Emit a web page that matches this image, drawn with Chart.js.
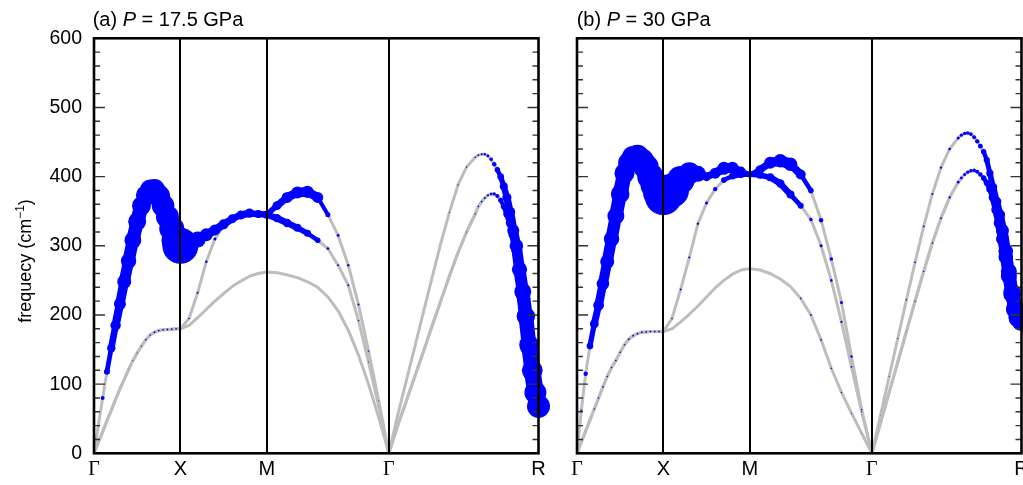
<!DOCTYPE html>
<html>
<head>
<meta charset="utf-8">
<script src="https://cdn.jsdelivr.net/npm/chart.js@4.4.1/dist/chart.umd.min.js"></script>
<style>
html,body{margin:0;padding:0;background:#fff;overflow:hidden;width:1023px;height:485px;}
canvas{position:absolute;top:0;}
#ca{left:0px;}
#cb{left:483px;}
</style>
</head>
<body>
<canvas id="ca" width="560" height="485" style="width:560px;height:485px"></canvas>
<canvas id="cb" width="560" height="485" style="width:560px;height:485px"></canvas>
<script>
// ---- path coordinate (Γ-X | X-M | M-Γ | Γ-R) ----
const Q = [0,0.025,0.05,0.075,0.1,0.125,0.15,0.175,0.2,0.225,0.25,0.275,0.3,0.325,0.35,0.375,0.4,0.425,0.45,0.475,0.5,
  0.55,0.6,0.65,0.7,0.75,0.8,0.85,0.9,0.95,1.0,
  1.059,1.118,1.177,1.236,1.295,1.354,1.413,1.472,1.531,1.589,1.648,1.7071,
  1.757,1.807,1.857,1.907,1.957,2.007,2.057,2.107,2.157,2.207,
  2.225,2.244,2.262,2.280,2.299,2.317,2.335,2.354,2.372,2.390,2.408,2.427,2.445,2.463,2.482,2.500,2.518,2.537,2.555,2.5731];
const TICK_POS = [0, 0.5, 1.0, 1.7071, 2.5731];
const TICK_LABELS = ['Γ','X','M','Γ','R'];
const Y_MIN = 0, Y_MAX = 600, Y_STEP = 100, Y_MINOR = 20;

// ---- (a) P = 17.5 GPa : frequencies (cm^-1) ----
const A_B1 = [0,16,31,47,62,78,93,107,121,134,145,155,164,171,175,177.5,178.5,179,179.5,180,180,
  185,196,208,220,231,241,249,256,260,262,
  261,258,254,248,240,226,206,178,142,100,52,0,
  39,75,111,147,184,220,256,290,320,346, 357,364,369,373,375,375,372,366,357,346, 333,316,296,262,230,194,152,116,85,68];
const A_B2 = [0,16,31,47,62,78,93,107,121,134,145,155,164,171,175,177.5,178.5,179,179.5,180,180,
  195,232,277,310,328,338,343,346,346,345,
  340,333,326,318,308,296,272,243,192,132,68,0,
  39,75,111,147,184,220,256,290,320,346, 357,364,369,373,375,375,372,366,357,346, 333,316,296,262,230,194,152,116,85,68];
const A_B3 = [0,40,80,118,152,185,216,248,278,308,335,358,373,381,381,372,358,342,325,308,300,
  303,309,316,323,331,339,345,348,346,345,
  358,370,377,378,370,345,315,272,215,148,76,0,
  54,104,154,204,254,303,348,388,414,428, 431,432.5,432.5,430,425,418,410,400,386,370, 349,322,300,266,234,198,157,120,88,68];
// electron-phonon coupling weights (a)
const A_L1 = [0,0,0,0,0,0,0,0,0,0,0,0,0,0,0,0,0,0,0,0,0,
  0,0,0,0,0,0,0,0,0,0,
  0,0,0,0,0,0,0,0,0,0,0,0,
  0,0,0,0,0,0,0,0,0,0, 0,0,0,0,0,0,0,0,0,0, 0,0,0,0,0,0,0,0,0,0];
const A_L2 = [0,0,0,0,0,0,0,0,.04,.05,.06,.07,.08,.08,.09,.09,.09,.09,.09,.09,.1,
  .08,.1,.12,.15,.2,.28,.35,.38,.4,.4,
  .42,.42,.4,.35,.28,.14,.1,.09,.07,.05,.03,0,
  0,0,0,0,0,0,0,0,.05,.07, .08,.09,.1,.11,.13,.16,.2,.25,.3,.36, .42,.48,.55,.62,.7,.77,.84,.9,.96,1.0];
const A_L3 = [0,.07,.2,.3,.42,.52,.6,.7,.77,.84,.9,.95,.99,1.02,1.07,1.12,1.13,1.15,1.25,1.45,1.8,
  1.0,.8,.65,.55,.5,.45,.42,.4,.35,.35,
  .45,.55,.6,.62,.55,.25,.14,.12,.1,.08,.05,0,
  0,0,0,0,0,0,.05,.06,.07,.08, .09,.1,.12,.14,.18,.22,.28,.33,.4,.46, .53,.6,.68,.76,.85,.92,.98,1.04,1.1,1.15];

// ---- (b) P = 30 GPa : frequencies (cm^-1) ----
const B_B1 = [0,16,32,48,64,80,96,111,124,134,146,157,165,170,173,175,175.5,176,176,176,176,
  180,190,201,213,226,239,250,259,265,267,
  265,260,252,241,224,200,164,123,88,58,29,0,
  44,88,132,176,220,263,304,340,370,392, 398,403,406.5,408.5,409,407,403,398,391,382, 370,352,333,310,284,256,230,209,197,192];
const B_B2 = [0,16,32,48,64,80,96,111,124,134,146,157,165,170,173,175,175.5,176,176,176,176,
  195,237,283,332,362,382,395,401,403,403,
  402,399,390,374,358,338,300,250,190,125,60,0,
  44,88,132,176,220,263,304,340,370,392, 398,403,406.5,408.5,409,407,403,398,391,382, 370,352,333,310,284,256,230,209,197,192];
const B_B3 = [0,62,115,155,187,214,245,277,310,343,375,405,420,428,429,423,414,400,388,377,371,
  380,395,405,404,400,405,412,413,408,403,
  410,420,423,418,403,380,337,281,218,140,63,0,
  55,111,166,222,276,328,375,413,440,456, 460,462.5,463,461.5,457,451,444,436,424,405, 385,364,345,322,292,263,233,208,196,192];
// electron-phonon coupling weights (b)
const B_L1 = [0,0,0,0,0,0,0,0,0,0,0,0,0,0,0,0,0,0,0,0,0,
  0,0,0,0,0,0,0,0,0,0,
  0,0,0,0,.08,.09,.09,.08,.07,.05,.03,0,
  0,0,0,0,0,0,0,0,0,0, 0,0,0,0,0,0,0,0,0,0, 0,0,0,0,0,0,0,0,0,0];
const B_L2 = [0,0,0,0,.07,.07,.08,.08,.08,.08,.08,.08,.09,.09,.09,.09,.09,.09,.09,.09,.09,
  .08,.1,.1,.12,.15,.22,.28,.35,.35,.3,
  .35,.4,.42,.4,.3,.17,.15,.13,.11,.09,.06,0,
  0,0,0,.04,.06,.07,.08,.09,.11,.13, .14,.15,.16,.17,.18,.2,.23,.27,.31,.36, .43,.5,.57,.65,.73,.8,.86,.92,.98,1.02];
const B_L3 = [0,.1,.22,.33,.44,.54,.63,.7,.77,.85,.93,1.0,1.07,1.13,1.18,1.22,1.26,1.32,1.42,1.6,1.85,
  1.7,1.4,1.1,.8,.45,.55,.65,.6,.45,.3,
  .45,.6,.68,.68,.5,.28,.22,.18,.15,.12,.08,0,
  .03,.05,.06,.07,.08,.09,.1,.11,.13,.15, .16,.17,.18,.19,.2,.22,.24,.27,.31,.36, .43,.5,.57,.65,.73,.8,.86,.92,.98,1.02];

// ---- styling ----
const BLUE = '#0000ff', GRAY = '#bdbdbd', NONE = 'rgba(0,0,0,0)';
const LAMBDA_TO_PX = 10;
const BAND_MIN = 2.5;     // px radius below which circles stay separate dots
const BAND_FRAC = 0.8;    // band thickness relative to circle diameter (keeps bead outline)
const SANS = "'Liberation Sans', Arial, Helvetica, sans-serif";
const SERIF = "'Liberation Serif', 'Times New Roman', serif";

const panelPlugin = {
  id: 'panel',
  afterDatasetsDraw(chart, args, opts) {
    const {ctx, chartArea: a, scales: {x, y}} = chart;
    ctx.save();
    ctx.strokeStyle = '#000';
    ctx.lineWidth = 2;
    TICK_POS.slice(1, -1).forEach(v => {
      const px = Math.round(x.getPixelForValue(v));
      ctx.beginPath(); ctx.moveTo(px, a.top); ctx.lineTo(px, a.bottom); ctx.stroke();
    });
    ctx.strokeStyle = '#333';
    ctx.lineWidth = 1.4;
    for (let v = Y_MIN; v <= Y_MAX; v += Y_MINOR) {
      const py = y.getPixelForValue(v);
      const len = (v % Y_STEP === 0) ? 11 : 6;
      ctx.beginPath();
      ctx.moveTo(a.left, py); ctx.lineTo(a.left + len, py);
      ctx.moveTo(a.right, py); ctx.lineTo(a.right - len, py);
      ctx.stroke();
    }
    ctx.strokeStyle = '#000';
    ctx.lineWidth = 2.6;
    ctx.strokeRect(a.left, a.top, a.right - a.left, a.bottom - a.top);
    ctx.restore();
  },
  afterDraw(chart, args, opts) {
    const ctx = chart.ctx;
    ctx.save();
    ctx.fillStyle = '#000';
    ctx.textBaseline = 'alphabetic';
    let cx = opts.titleX;
    const parts = [[opts.label + ' ', 'normal'], ['P', 'italic'], [' = ' + opts.value, 'normal']];
    parts.forEach(([t, st]) => {
      ctx.font = (st === 'italic' ? 'italic ' : '') + '20px ' + SANS;
      ctx.fillText(t, cx, 25.5);
      cx += ctx.measureText(t).width;
    });
    if (opts.yTitle) {
      ctx.translate(31, 261);
      ctx.rotate(-Math.PI / 2);
      const main = 'frequecy (cm', sup = '\u22121', end = ')';
      ctx.font = '18px ' + SANS;
      const w1 = ctx.measureText(main).width, w3 = ctx.measureText(end).width;
      ctx.font = '12px ' + SANS;
      const w2 = ctx.measureText(sup).width;
      let sx = -(w1 + w2 + w3) / 2;
      ctx.font = '18px ' + SANS;
      ctx.fillText(main, sx, 0); sx += w1;
      ctx.font = '12px ' + SANS;
      ctx.fillText(sup, sx, -7); sx += w2;
      ctx.font = '18px ' + SANS;
      ctx.fillText(end, sx, 0);
    }
    ctx.restore();
  }
};

function buildChart(id, freqs, lams, showYLabels, panelOpts) {
  const datasets = [];
  freqs.forEach((f, bi) => {
    datasets.push({
      type: 'bubble', order: 0, clip: false,
      backgroundColor: BLUE, borderWidth: 0, hoverBorderWidth: 0, hoverRadius: 0,
      data: Q.map((q, i) => ({x: q, y: f[i], r: lams[bi][i] * LAMBDA_TO_PX})).filter(d => d.r >= 0.3)
    });
  });
  // continuous "fat band" joining neighbouring coupling circles
  freqs.forEach((f, bi) => {
    const rad = i => lams[bi][i] * LAMBDA_TO_PX;
    const segR = c => Math.min(rad(c.p0DataIndex), rad(c.p1DataIndex));
    datasets.push({
      type: 'line', order: 1, clip: false,
      data: Q.map((q, i) => ({x: q, y: f[i]})),
      borderColor: BLUE, borderWidth: 1, pointRadius: 0, tension: 0, fill: false,
      borderCapStyle: 'round', borderJoinStyle: 'round',
      segment: {
        borderWidth: c => Math.max(1, 2 * BAND_FRAC * segR(c)),
        borderColor: c => segR(c) >= BAND_MIN ? BLUE : NONE
      }
    });
  });
  freqs.forEach(f => {
    datasets.push({
      type: 'line', order: 2,
      data: Q.map((q, i) => ({x: q, y: f[i]})),
      borderColor: GRAY, borderWidth: 3, pointRadius: 0, tension: 0, fill: false,
      borderJoinStyle: 'round', borderCapStyle: 'round'
    });
  });
  return new Chart(document.getElementById(id), {
    type: 'scatter',
    data: {datasets},
    options: {
      responsive: false, animation: false, events: [], devicePixelRatio: 1,
      layout: {padding: {left: 0, right: 21.5, top: 38.3, bottom: 1.7}},
      plugins: {legend: {display: false}, tooltip: {enabled: false}, panel: panelOpts},
      scales: {
        x: {
          type: 'linear', min: TICK_POS[0], max: TICK_POS[TICK_POS.length - 1],
          afterBuildTicks: s => { s.ticks = TICK_POS.map(v => ({value: v})); },
          ticks: {
            autoSkip: false, maxRotation: 0, padding: 4, color: '#000',
            callback: (v, i) => TICK_LABELS[i],
            font: c => ({family: TICK_LABELS[c.index] === 'Γ' ? SERIF : SANS, size: 20})
          },
          grid: {display: false, drawTicks: false},
          border: {display: false},
          afterFit: s => { s.height = 30; }
        },
        y: {
          min: Y_MIN, max: Y_MAX,
          ticks: {stepSize: Y_STEP, padding: 12, color: '#000', display: showYLabels, font: {family: SANS, size: 19.5}},
          grid: {display: false, drawTicks: false},
          border: {display: false},
          afterFit: s => { s.width = 94; }
        }
      }
    },
    plugins: [panelPlugin]
  });
}

buildChart('ca', [A_B1, A_B2, A_B3], [A_L1, A_L2, A_L3], true,
  {label: '(a)', value: '17.5 GPa', titleX: 92.7, yTitle: true});
buildChart('cb', [B_B1, B_B2, B_B3], [B_L1, B_L2, B_L3], false,
  {label: '(b)', value: '30 GPa', titleX: 93.7, yTitle: false});
</script>
</body>
</html>
